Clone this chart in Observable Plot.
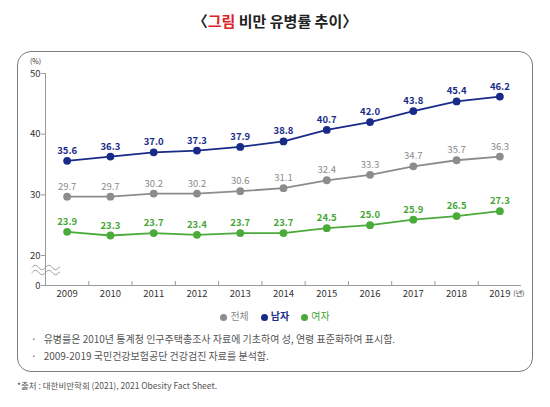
<!DOCTYPE html>
<html>
<head>
<meta charset="utf-8">
<script src="https://cdn.jsdelivr.net/npm/d3@7"></script>
<script src="https://cdn.jsdelivr.net/npm/@observablehq/plot@0.6"></script>
<style>
  body { margin: 0; background: #fff; font-family: "Noto Sans CJK KR", "Noto Sans", sans-serif; }
  #page { position: relative; width: 550px; height: 407px; overflow: hidden; }
  #title { position: absolute; top: 10px; left: 0; width: 550px; text-align: center; font-size: 15px; font-weight: 700; color: #222; }
  #title .red { color: #e0202a; }
  #box { position: absolute; left: 17px; top: 51px; width: 516px; height: 321px; box-sizing: border-box;
         border: 1.5px solid #7a7a7a; border-radius: 14px; }
  #chart { position: absolute; left: 0; top: 50px; }
  #legend { position: absolute; top: 308px; left: 0; width: 550px; text-align: center; font-size: 10px; }
  #legend span { margin: 0 6px; }
  #legend i { display: inline-block; width: 7px; height: 7px; border-radius: 50%; margin-right: 3px; vertical-align: -0.5px; }
  #notes { position: absolute; top: 330px; left: 31px; font-size: 10px; color: #555; line-height: 17px; }
  #notes b { font-weight: 400; margin-right: 7px; }
  #source { position: absolute; top: 379px; left: 17px; font-size: 8.5px; color: #555; }
</style>
</head>
<body>
<div id="page">
  <div id="title">〈<span class="red">그림</span> 비만 유병률 추이〉</div>
  <div id="box"></div>
  <div id="chart"></div>
  <div id="legend"></div>
  <div id="notes">
    <div><b>·</b>유병률은 2010년 통계청 인구주택총조사 자료에 기초하여 성, 연령 표준화하여 표시함.</div>
    <div><b>·</b>2009-2019 국민건강보험공단 건강검진 자료를 분석함.</div>
  </div>
  <div id="source">*출처 : 대한비만학회 (2021), 2021 Obesity Fact Sheet.</div>
</div>
<script>
const years = [2009, 2010, 2011, 2012, 2013, 2014, 2015, 2016, 2017, 2018, 2019];
const total = [29.7, 29.7, 30.2, 30.2, 30.6, 31.1, 32.4, 33.3, 34.7, 35.7, 36.3];
const male = [35.6, 36.3, 37.0, 37.3, 37.9, 38.8, 40.7, 42.0, 43.8, 45.4, 46.2];
const female = [23.9, 23.3, 23.7, 23.4, 23.7, 23.7, 24.5, 25.0, 25.9, 26.5, 27.3];
const seriesNames = ["전체", "남자", "여자"];
const seriesColors = ["#8c8c8c", "#182b88", "#4aab3a"];
const labelColors = ["#8a8a8a", "#182b88", "#44a634"];
const labelWeights = [400, 700, 600];
const yTicks = [0, 20, 30, 40, 50];

const allSeries = [total, male, female];
const rows = allSeries.flatMap((vals, s) =>
  years.map((y, i) => ({year: y, value: vals[i], series: seriesNames[s]})));
const mids = years.slice(0, -1).map(y => y + 0.5);

const font = "Noto Sans CJK KR, Noto Sans, sans-serif";

const marks = [
  Plot.ruleY([0], {stroke: "#9a9a9a", strokeWidth: 1}),
  Plot.ruleX([2008.5], {y1: 0, y2: 50, stroke: "#9a9a9a", strokeWidth: 1}),
  Plot.axisY({ticks: yTicks, tickSize: 4, tickPadding: 1, fontSize: 9.5, color: "#333", stroke: "#9a9a9a", label: null}),
  Plot.axisX({ticks: mids, tickSize: -5, tickFormat: () => "", stroke: "#9a9a9a", label: null}),
  Plot.axisX({ticks: years, tickSize: 0, tickPadding: 4, tickFormat: d => String(d), fontSize: 9.5, color: "#333", label: null}),
  Plot.text([{x: 2008.5, y: 50}], {x: "x", y: "y", text: () => "(%)", dx: -10, dy: -12, fontSize: 7, fill: "#333"}),
  Plot.text([{x: 2019, y: 0}], {x: "x", y: "y", text: () => "(년)", dx: 19, dy: 8, fontSize: 7, fill: "#333"})
];
seriesNames.forEach((name, s) => {
  const d = rows.filter(r => r.series === name);
  marks.push(
    Plot.line(d, {x: "year", y: "value", stroke: seriesColors[s], strokeWidth: 1.8}),
    Plot.dot(d, {x: "year", y: "value", r: 3.9, fill: seriesColors[s]}),
    Plot.text(d, {x: "year", y: "value", text: r => r.value.toFixed(1), dy: -10,
      fill: labelColors[s], fontSize: 9.5, fontWeight: labelWeights[s]})
  );
});

const chart = Plot.plot({
  width: 550,
  height: 270,
  marginLeft: 45,
  marginRight: 29,
  marginTop: 23,
  marginBottom: 34,
  style: {fontFamily: font, background: "transparent", overflow: "visible"},
  x: {type: "linear", domain: [2008.5, 2019.5]},
  y: {type: "linear", domain: [0, 20, 50], range: [235, 205, 23]},
  marks
});
d3.select("#chart").append(() => chart);

// axis break squiggles
const ys = chart.scale("y");
const yb = ys.apply(10);
const svg = d3.select(chart);
[-2.5, 2.5].forEach(off => {
  const pts = d3.range(0, 28.5, 0.5).map(t => [32 + t, yb + off - 2.2 * Math.sin(t / 27 * 4 * Math.PI)]);
  svg.append("path").attr("d", d3.line()(pts)).attr("fill", "none").attr("stroke", "#888").attr("stroke-width", 0.9);
});

// legend
const legend = d3.select("#legend");
seriesNames.forEach((name, s) => {
  const sp = legend.append("span").style("color", labelColors[s]).style("font-weight", s === 1 ? 700 : 400);
  sp.append("i").style("background", seriesColors[s]);
  sp.append("text").text(name);
});
</script>
</body>
</html>
